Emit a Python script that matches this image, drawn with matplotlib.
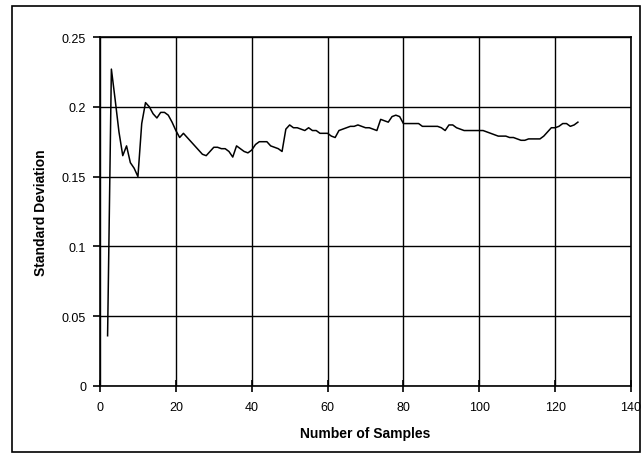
import matplotlib
matplotlib.use("Agg")
import matplotlib.pyplot as plt
from matplotlib.patches import Rectangle

plt.rcParams['font.family'] = ['Liberation Sans', 'DejaVu Sans']

# sample count and running standard deviation
samples = list(range(2, 127))
std_dev = [
    0.036, 0.227, 0.205, 0.182, 0.165, 0.172, 0.160, 0.156, 0.150, 0.188,
    0.203, 0.200, 0.195, 0.192, 0.196, 0.196, 0.194, 0.189, 0.183, 0.178,
    0.181, 0.178, 0.175, 0.172, 0.169, 0.166, 0.165, 0.168, 0.171, 0.171,
    0.170, 0.170, 0.168, 0.164, 0.172, 0.170, 0.168, 0.167, 0.169, 0.173,
    0.175, 0.175, 0.175, 0.172, 0.171, 0.170, 0.168, 0.184, 0.187, 0.185,
    0.185, 0.184, 0.183, 0.185, 0.183, 0.183, 0.181, 0.181, 0.181, 0.179,
    0.178, 0.183, 0.184, 0.185, 0.186, 0.186, 0.187, 0.186, 0.185, 0.185,
    0.184, 0.183, 0.191, 0.190, 0.189, 0.193, 0.194, 0.193, 0.188, 0.188,
    0.188, 0.188, 0.188, 0.186, 0.186, 0.186, 0.186, 0.186, 0.185, 0.183,
    0.187, 0.187, 0.185, 0.184, 0.183, 0.183, 0.183, 0.183, 0.183, 0.183,
    0.182, 0.181, 0.180, 0.179, 0.179, 0.179, 0.178, 0.178, 0.177, 0.176,
    0.176, 0.177, 0.177, 0.177, 0.177, 0.179, 0.182, 0.185, 0.185, 0.186,
    0.188, 0.188, 0.186, 0.187, 0.189,
]
x_ticks = [0, 20, 40, 60, 80, 100, 120, 140]
y_ticks = [0, 0.05, 0.1, 0.15, 0.2, 0.25]
y_labels = ['0', '0.05', '0.1', '0.15', '0.2', '0.25']

fig = plt.figure(figsize=(6.44, 4.60), dpi=100)
ax = fig.add_axes([100 / 644, 73 / 460, 531 / 644, 349 / 460])

# outer chart frame
fig.patches.append(Rectangle((12 / 644, 7 / 460), 628 / 644, 446 / 460,
                             transform=fig.transFigure, fill=False,
                             edgecolor='black', linewidth=1.2))

ax.plot(samples, std_dev, color='black', linewidth=1.1)

ax.set_xlim(0, 140)
ax.set_ylim(0, 0.25)
ax.set_xticks(x_ticks)
ax.set_yticks(y_ticks)
ax.set_yticklabels(y_labels)
ax.grid(True, color='black', linewidth=1.0)
ax.set_axisbelow(True)
for s in ax.spines.values():
    s.set_linewidth(1.2)
ax.tick_params(axis='x', direction='inout', length=8, width=1.2, labelsize=9, pad=7)
ax.tick_params(axis='y', direction='out', length=5, width=1.2, labelsize=9, pad=5)

ax.set_xlabel('Number of Samples', fontsize=10, fontweight='bold', labelpad=9)
ax.set_ylabel('Standard Deviation', fontsize=10, fontweight='bold', labelpad=10)

fig.savefig('out.png', dpi=100)
